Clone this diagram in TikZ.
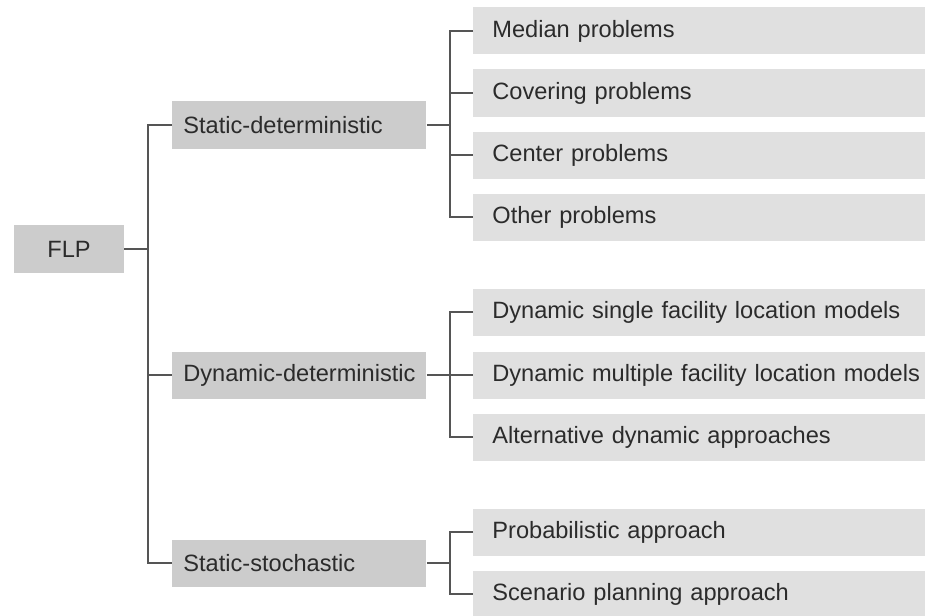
\documentclass[tikz,border=0pt]{standalone}
\usepackage{fontspec}
\setmainfont{Liberation Sans}
\usepackage{tikz}
\usetikzlibrary{positioning}
\definecolor{GroupGray}{HTML}{CCCCCC}
\definecolor{LeafGray}{HTML}{E0E0E0}
\definecolor{LineGray}{HTML}{555555}
\definecolor{InkText}{HTML}{2B2B2B}
\tikzset{
  rootbox/.style={fill=GroupGray,text=InkText,minimum width=55pt,minimum height=24pt,
    inner sep=0pt,font=\fontsize{11.8}{14}\selectfont},
  groupbox/.style={fill=GroupGray,text=InkText,anchor=west,minimum height=23.5pt,
    inner sep=0pt,text width=127pt,align=left,
    execute at begin node={\hyphenpenalty=10000\hspace*{5.5pt}},
    font=\fontsize{11.8}{14}\selectfont},
  leafbox/.style={fill=LeafGray,text=InkText,anchor=west,minimum height=23.5pt,
    inner sep=0pt,text width=226pt,align=left,
    execute at begin node={\hyphenpenalty=10000\hspace*{9.5pt}},
    font=\fontsize{11.8}{14}\selectfont},
  branch/.style={draw=LineGray,line width=1pt}
}
\begin{document}
\begin{tikzpicture}[x=0.5pt,y=-0.5pt]
\useasboundingbox (0,0) rectangle (925,615);

\node[rootbox] (flp) at (69,249) {FLP};

\node[groupbox] (sd) at (172,125) {Static-deterministic};
\node[groupbox] (dd) at (172,375) {Dynamic-deterministic};
\node[groupbox] (ss) at (172,563) {Static-stochastic};

\node[leafbox] (median) at (473,31) {Median problems};
\node[leafbox] (covering) at (473,93) {Covering problems};
\node[leafbox] (center) at (473,155) {Center problems};
\node[leafbox] (other) at (473,217) {Other problems};

\node[leafbox] (dsingle) at (473,312) {Dynamic single facility location models};
\node[leafbox] (dmulti) at (473,375) {Dynamic multiple facility location models};
\node[leafbox] (altdyn) at (473,437) {Alternative dynamic approaches};

\node[leafbox] (prob) at (473,532) {Probabilistic approach};
\node[leafbox] (scen) at (473,594) {Scenario planning approach};

\coordinate (j0) at (148,249);
\coordinate (j1) at (450,125);
\coordinate (j2) at (450,375);
\coordinate (j3) at (450,563);

\draw[branch] (flp.east) -- (j0);
\draw[branch] (sd.west) -| (j0) |- (ss.west);
\draw[branch] (j0 |- dd.west) -- (dd.west);

\draw[branch] (sd.east) -- (j1);
\draw[branch] (median.west) -| (j1) |- (other.west);
\draw[branch] (j1 |- covering.west) -- (covering.west);
\draw[branch] (j1 |- center.west) -- (center.west);

\draw[branch] (dd.east) -- (j2);
\draw[branch] (dsingle.west) -| (j2) |- (altdyn.west);
\draw[branch] (j2) -- (dmulti.west);

\draw[branch] (ss.east) -- (j3);
\draw[branch] (prob.west) -| (j3) |- (scen.west);
\end{tikzpicture}
\end{document}
